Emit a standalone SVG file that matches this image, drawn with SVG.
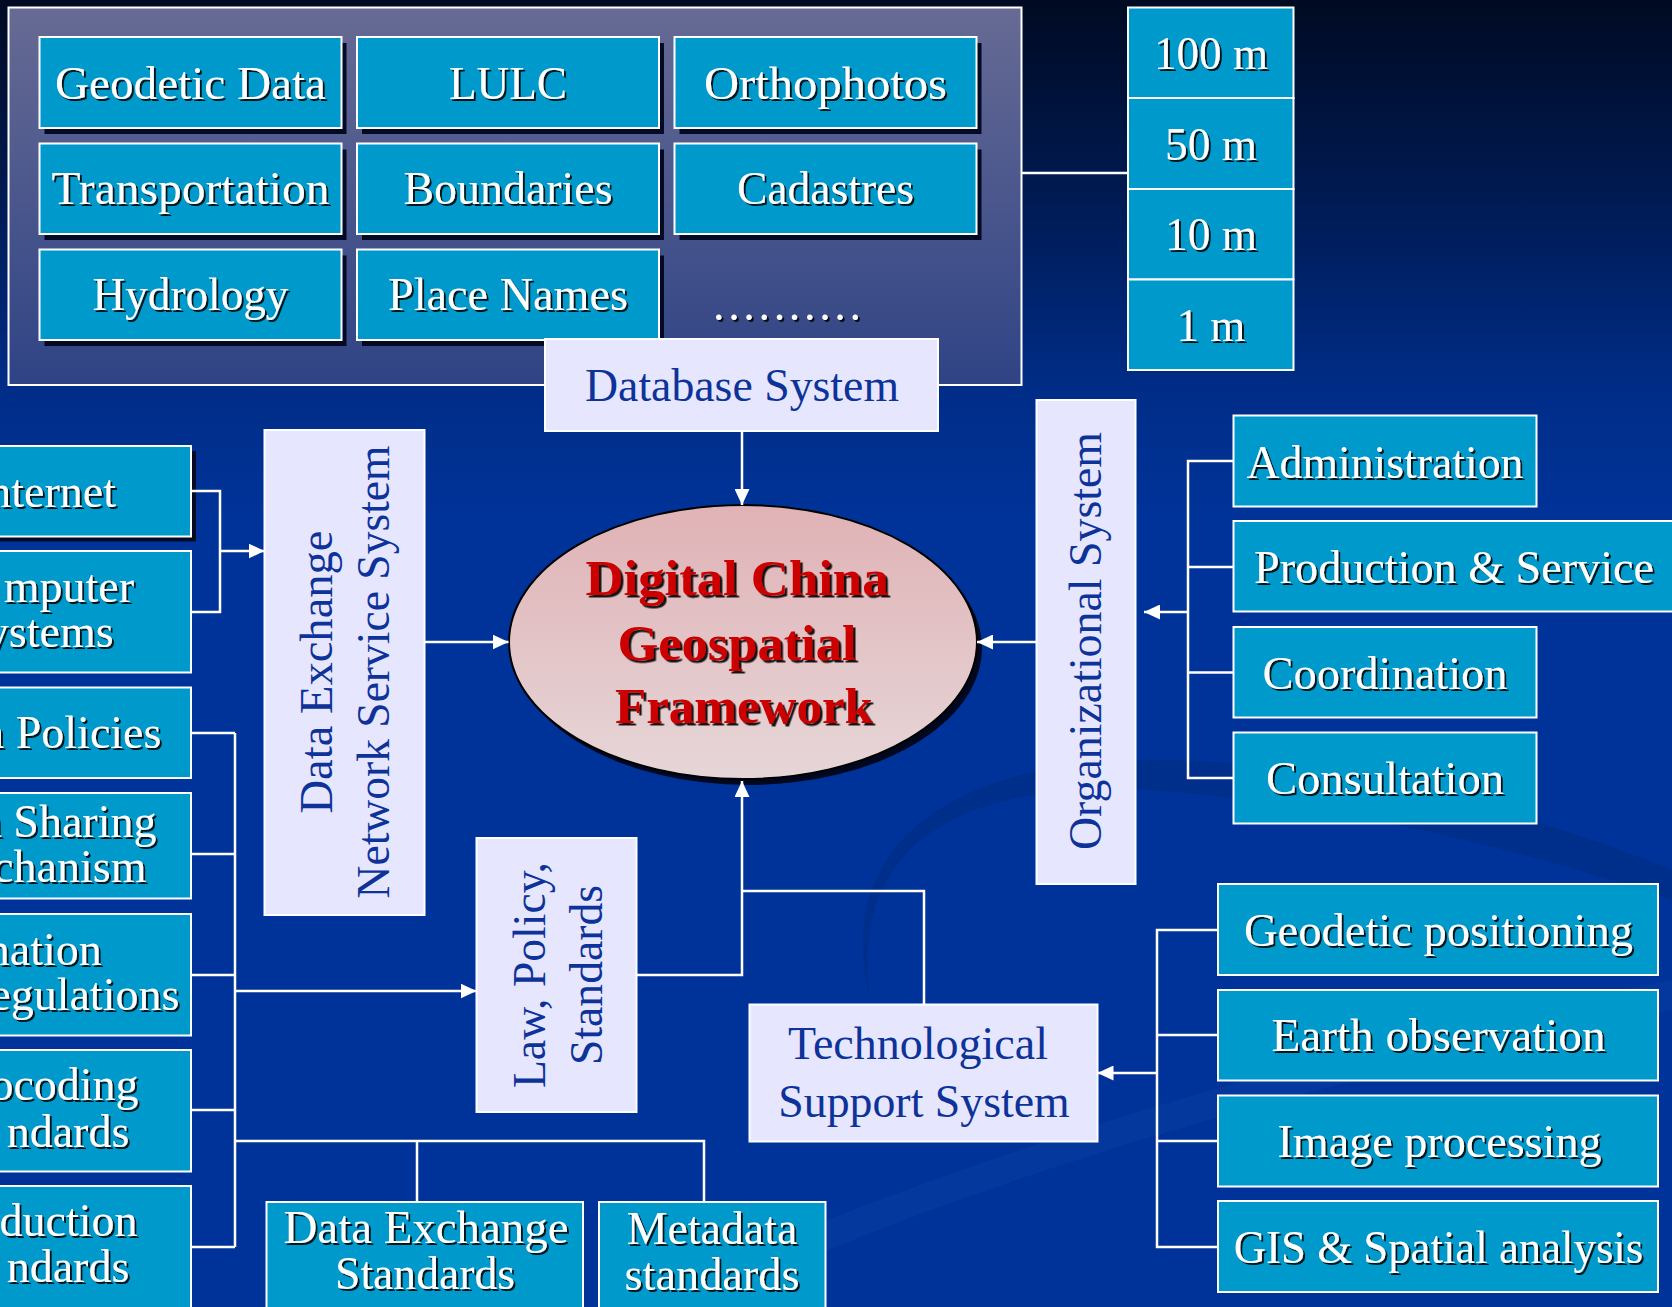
<svg xmlns="http://www.w3.org/2000/svg" width="1672" height="1307" viewBox="0 0 1672 1307">
<defs>
<linearGradient id="bg" x1="0" y1="0" x2="0" y2="1">
<stop offset="0" stop-color="#000a22"/>
<stop offset="0.15" stop-color="#001a52"/>
<stop offset="0.3" stop-color="#002d88"/>
<stop offset="0.4" stop-color="#003399"/>
<stop offset="1" stop-color="#003399"/>
</linearGradient>
<linearGradient id="outer" x1="0" y1="0" x2="0" y2="1">
<stop offset="0" stop-color="#676b94"/>
<stop offset="1" stop-color="#2f4385"/>
</linearGradient>
<linearGradient id="ell" x1="0" y1="0" x2="0" y2="1">
<stop offset="0" stop-color="#e0b2b5"/>
<stop offset="1" stop-color="#e6d6d8"/>
</linearGradient>
<filter id="ts" x="-10%" y="-30%" width="120%" height="160%">
<feDropShadow dx="2" dy="2" stdDeviation="0" flood-color="#000" flood-opacity="0.85"/>
</filter>
<filter id="rs" x="-10%" y="-30%" width="120%" height="160%">
<feDropShadow dx="2.5" dy="2.5" stdDeviation="0" flood-color="#000" flood-opacity="0.9"/>
</filter>
<marker id="ah" markerUnits="userSpaceOnUse" markerWidth="16" markerHeight="15" refX="16" refY="7.5" orient="auto">
<path d="M0,0 L16,7.5 L0,15 Z" fill="#fff"/>
</marker>
<style>
.cy{fill:#0099cc;stroke:#fff;stroke-width:2}
.lv{fill:#e6e6ff;stroke:#fff;stroke-width:2}
.sh{fill:#050a24}
.wt{font-family:"Liberation Serif",serif;font-size:46px;fill:#fff;text-anchor:middle;filter:url(#ts)}
.wl{font-family:"Liberation Serif",serif;font-size:46px;fill:#fff;text-anchor:end;filter:url(#ts)}
.nt{font-family:"Liberation Serif",serif;font-size:46px;fill:#0d3399;text-anchor:middle}
.rt{font-family:"Liberation Serif",serif;font-size:50px;font-weight:bold;fill:#cc0000;text-anchor:middle;filter:url(#rs)}
.conn{stroke:#fff;stroke-width:2.5;fill:none}
</style>
</defs>
<g id="background">
<rect x="0" y="0" width="1672" height="1307" fill="url(#bg)"/>
<path d="M870,1000 C850,850 950,780 1150,790 C1300,800 1500,840 1672,900 L1672,870 C1500,800 1300,760 1150,760 C960,760 830,840 870,1000 Z" fill="#00287a" opacity="0.45"/>
<path d="M620,1307 C900,1180 1250,1060 1672,980 L1672,1010 C1260,1090 920,1200 700,1307 Z" fill="#1048a8" opacity="0.25"/>
</g>
<g id="database-group">
<rect x="8.5" y="7.5" width="1013" height="377.5" fill="url(#outer)" stroke="#fff" stroke-width="2"/>
</g>
<g id="geodetic-data"><rect class="sh" x="44.5" y="43" width="302" height="91"/><rect class="cy" x="39.5" y="37" width="302" height="91"/><text class="wt" x="190.5" y="99" textLength="271" lengthAdjust="spacingAndGlyphs">Geodetic Data</text></g>
<g id="lulc"><rect class="sh" x="362" y="43" width="302" height="91"/><rect class="cy" x="357" y="37" width="302" height="91"/><text class="wt" x="508" y="99" textLength="118" lengthAdjust="spacingAndGlyphs">LULC</text></g>
<g id="orthophotos"><rect class="sh" x="679.5" y="43" width="302" height="91"/><rect class="cy" x="674.5" y="37" width="302" height="91"/><text class="wt" x="825.5" y="99" textLength="243" lengthAdjust="spacingAndGlyphs">Orthophotos</text></g>
<g id="transportation"><rect class="sh" x="44.5" y="149.5" width="302" height="90.5"/><rect class="cy" x="39.5" y="143.5" width="302" height="90.5"/><text class="wt" x="190.5" y="204" textLength="278" lengthAdjust="spacingAndGlyphs">Transportation</text></g>
<g id="boundaries"><rect class="sh" x="362" y="149.5" width="302" height="90.5"/><rect class="cy" x="357" y="143.5" width="302" height="90.5"/><text class="wt" x="508" y="204" textLength="209" lengthAdjust="spacingAndGlyphs">Boundaries</text></g>
<g id="cadastres"><rect class="sh" x="679.5" y="149.5" width="302" height="90.5"/><rect class="cy" x="674.5" y="143.5" width="302" height="90.5"/><text class="wt" x="825.5" y="204" textLength="177" lengthAdjust="spacingAndGlyphs">Cadastres</text></g>
<g id="hydrology"><rect class="sh" x="44.5" y="255.5" width="302" height="90.5"/><rect class="cy" x="39.5" y="249.5" width="302" height="90.5"/><text class="wt" x="190.5" y="309.5" textLength="196" lengthAdjust="spacingAndGlyphs">Hydrology</text></g>
<g id="place-names"><rect class="sh" x="362" y="255.5" width="302" height="90.5"/><rect class="cy" x="357" y="249.5" width="302" height="90.5"/><text class="wt" x="508" y="309.5" textLength="240" lengthAdjust="spacingAndGlyphs">Place Names</text></g>
<g id="ellipsis"><text class="wt" x="787" y="320" textLength="148" lengthAdjust="spacing">..........</text></g>
<g id="scales">
<rect class="cy" x="1128" y="7.5" width="165.5" height="90.5"/><text class="wt" x="1211" y="69" textLength="114" lengthAdjust="spacingAndGlyphs">100 m</text>
<rect class="cy" x="1128" y="98" width="165.5" height="91"/><text class="wt" x="1211" y="159.5" textLength="92" lengthAdjust="spacingAndGlyphs">50 m</text>
<rect class="cy" x="1128" y="189" width="165.5" height="90.5"/><text class="wt" x="1211" y="250" textLength="92" lengthAdjust="spacingAndGlyphs">10 m</text>
<rect class="cy" x="1128" y="279.5" width="165.5" height="90.5"/><text class="wt" x="1211" y="340.5" textLength="69" lengthAdjust="spacingAndGlyphs">1 m</text>
</g>
<g id="database-system"><rect class="lv" x="545" y="339" width="393" height="92"/><text class="nt" x="742" y="401" textLength="314" lengthAdjust="spacingAndGlyphs">Database System</text></g>
<g id="center">
<ellipse cx="748" cy="648" rx="234" ry="137" fill="#000820"/>
<ellipse cx="743" cy="642" rx="234" ry="137" fill="url(#ell)" stroke="#000" stroke-width="2"/>
<text class="rt" x="737" y="595" textLength="303" lengthAdjust="spacingAndGlyphs">Digital China</text>
<text class="rt" x="737" y="660" textLength="239" lengthAdjust="spacingAndGlyphs">Geospatial</text>
<text class="rt" x="744" y="723" textLength="258" lengthAdjust="spacingAndGlyphs">Framework</text>
</g>
<g id="data-exchange-network"><rect class="lv" x="264.5" y="430" width="160" height="485"/>
<text class="nt" transform="translate(332,672) rotate(-90)" textLength="283" lengthAdjust="spacingAndGlyphs">Data Exchange</text>
<text class="nt" transform="translate(389,672) rotate(-90)" textLength="453" lengthAdjust="spacingAndGlyphs">Network Service System</text></g>
<g id="law-policy"><rect class="lv" x="476.5" y="838" width="160" height="274"/>
<text class="nt" transform="translate(545,975) rotate(-90)" textLength="226" lengthAdjust="spacingAndGlyphs">Law, Policy,</text>
<text class="nt" transform="translate(601.5,975) rotate(-90)" textLength="180" lengthAdjust="spacingAndGlyphs">Standards</text></g>
<g id="organizational"><rect class="lv" x="1036.5" y="400" width="99" height="484"/>
<text class="nt" transform="translate(1101,641) rotate(-90)" textLength="418" lengthAdjust="spacingAndGlyphs">Organizational System</text></g>
<g id="technological"><rect class="lv" x="749.5" y="1004.5" width="348" height="137"/>
<text class="nt" x="918" y="1059" textLength="260" lengthAdjust="spacingAndGlyphs">Technological</text>
<text class="nt" x="924" y="1117" textLength="291.5" lengthAdjust="spacingAndGlyphs">Support System</text></g>
<g id="internet"><rect class="sh" x="-195" y="451" width="391" height="90.5"/><rect class="cy" x="-200" y="446" width="391" height="90.5"/><text class="wl" x="116" y="506.7">nternet</text></g>
<g id="computer-systems"><rect class="cy" x="-200" y="551" width="391" height="121.5"/><text class="wl" x="134" y="601.7">mputer</text><text class="wl" x="113.6" y="647">ystems</text></g>
<g id="data-policies"><rect class="cy" x="-200" y="687.5" width="391" height="90.5"/><text class="wl" x="161.4" y="748">a Policies</text></g>
<g id="data-sharing"><rect class="cy" x="-200" y="793" width="391" height="105.5"/><text class="wl" x="156.4" y="836.7">a Sharing</text><text class="wl" x="146.4" y="881.7">chanism</text></g>
<g id="information-regulations"><rect class="cy" x="-200" y="914" width="391" height="121.5"/><text class="wl" x="101.8" y="965">nation</text><text class="wl" x="179.3" y="1010">egulations</text></g>
<g id="geocoding-standards"><rect class="cy" x="-200" y="1050" width="391" height="121.5"/><text class="wl" x="138.6" y="1100">ocoding</text><text class="wl" x="129.3" y="1146.7">ndards</text></g>
<g id="production-standards"><rect class="cy" x="-200" y="1186" width="391" height="130"/><text class="wl" x="137.5" y="1236">duction</text><text class="wl" x="129.3" y="1281.7">ndards</text></g>
<g id="data-exchange-standards"><rect class="cy" x="266.5" y="1202" width="316.5" height="120"/><text class="wt" x="426" y="1243" textLength="285" lengthAdjust="spacingAndGlyphs">Data Exchange</text><text class="wt" x="425" y="1289" textLength="180" lengthAdjust="spacingAndGlyphs">Standards</text></g>
<g id="metadata-standards"><rect class="cy" x="599" y="1202" width="226.5" height="120"/><text class="wt" x="712" y="1244" textLength="170.6" lengthAdjust="spacingAndGlyphs">Metadata</text><text class="wt" x="712" y="1290" textLength="175" lengthAdjust="spacingAndGlyphs">standards</text></g>
<g id="administration"><rect class="cy" x="1233.5" y="415.5" width="303" height="91"/><text class="wt" x="1385" y="477.5" textLength="277" lengthAdjust="spacingAndGlyphs">Administration</text></g>
<g id="production-service"><rect class="cy" x="1233.5" y="521" width="460" height="90.5"/><text class="wt" x="1454" y="583" textLength="400" lengthAdjust="spacingAndGlyphs">Production &amp; Service</text></g>
<g id="coordination"><rect class="cy" x="1233.5" y="627" width="303" height="90.5"/><text class="wt" x="1385" y="689" textLength="245" lengthAdjust="spacingAndGlyphs">Coordination</text></g>
<g id="consultation"><rect class="cy" x="1233.5" y="732.5" width="303" height="91"/><text class="wt" x="1385" y="794" textLength="238" lengthAdjust="spacingAndGlyphs">Consultation</text></g>
<g id="geodetic-positioning"><rect class="cy" x="1218" y="884" width="440" height="91"/><text class="wt" x="1438.5" y="946" textLength="389" lengthAdjust="spacingAndGlyphs">Geodetic positioning</text></g>
<g id="earth-observation"><rect class="cy" x="1218" y="990" width="440" height="90.5"/><text class="wt" x="1438.5" y="1051" textLength="334" lengthAdjust="spacingAndGlyphs">Earth observation</text></g>
<g id="image-processing"><rect class="cy" x="1218" y="1095.5" width="440" height="91"/><text class="wt" x="1439.5" y="1157" textLength="324" lengthAdjust="spacingAndGlyphs">Image processing</text></g>
<g id="gis-spatial"><rect class="cy" x="1218" y="1201" width="440" height="91"/><text class="wt" x="1438.5" y="1263" textLength="409.5" lengthAdjust="spacingAndGlyphs">GIS &amp; Spatial analysis</text></g>
<g id="connectors">
<path class="conn" d="M1021.5,173 H1128"/>
<path class="conn" d="M742,431 V505" marker-end="url(#ah)"/>
<path class="conn" d="M424.5,642 H508.5" marker-end="url(#ah)"/>
<path class="conn" d="M1036.5,642 H977" marker-end="url(#ah)"/>
<path class="conn" d="M191,491 H220 V612 H191"/>
<path class="conn" d="M220,551 H264.5" marker-end="url(#ah)"/>
<path class="conn" d="M191,733 H235 M191,854 H235 M191,975 H235 M191,1110 H235 M191,1247 H235 M235,733 V1247"/>
<path class="conn" d="M235,991 H476.5" marker-end="url(#ah)"/>
<path class="conn" d="M235,1141 H704 V1202 M417,1141 V1202"/>
<path class="conn" d="M636.5,975 H742 V781" marker-end="url(#ah)"/>
<path class="conn" d="M742,891 H924 V1004.5"/>
<path class="conn" d="M1233.5,461 H1188 V778 H1233.5 M1188,567 H1233.5 M1188,672.5 H1233.5"/>
<path class="conn" d="M1188,612 H1144" marker-end="url(#ah)"/>
<path class="conn" d="M1218,930 H1157 V1247 H1218 M1157,1035 H1218 M1157,1141 H1218"/>
<path class="conn" d="M1157,1073 H1097.5" marker-end="url(#ah)"/>
</g>
</svg>
